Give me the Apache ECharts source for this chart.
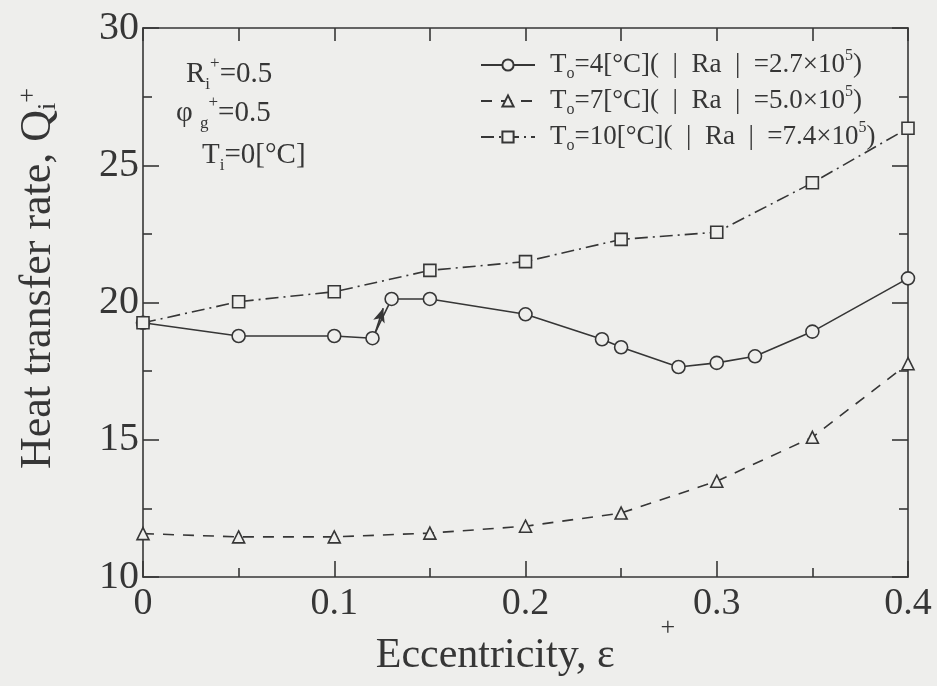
<!DOCTYPE html>
<html>
<head>
<meta charset="utf-8">
<script src="https://cdn.jsdelivr.net/npm/echarts@6/dist/echarts.min.js"></script>
<style>
  html, body { margin: 0; padding: 0; background: #eeeeec; }
  #chart { width: 937px; height: 686px; }
</style>
</head>
<body>
<div id="chart"></div>
<script>
// eccentricity values and heat transfer rate
var circleX = [0, 0.05, 0.1, 0.12, 0.13, 0.15, 0.2, 0.24, 0.25, 0.28, 0.3, 0.32, 0.35, 0.4];
var circleY = [19.26, 18.78, 18.78, 18.70, 20.13, 20.13, 19.57, 18.66, 18.37, 17.65, 17.80, 18.04, 18.94, 20.88];

var triX = [0, 0.05, 0.1, 0.15, 0.2, 0.25, 0.3, 0.35, 0.4];
var triY = [11.58, 11.46, 11.46, 11.60, 11.85, 12.33, 13.49, 15.09, 17.77];

var squareX = [0, 0.05, 0.1, 0.15, 0.2, 0.25, 0.3, 0.35, 0.4];
var squareY = [19.26, 20.03, 20.39, 21.17, 21.49, 22.30, 22.56, 24.36, 26.35];

// little arrow near the jump at 0.12 -> 0.13
var arrowFrom = [0.1217, 18.94];
var arrowTo = [0.1256, 19.79];

var seriesNames = [
  'T{sub|o}=4[°C](  |  Ra  |  =2.7×10{sup|5})',
  'T{sub|o}=7[°C](  |  Ra  |  =5.0×10{sup|5})',
  'T{sub|o}=10[°C](  |  Ra  |  =7.4×10{sup|5})'
];

var xTicks = [0, 0.1, 0.2, 0.3, 0.4];
var yTicks = [10, 15, 20, 25, 30];

var ink = '#363636';
var bg = '#eeeeec';
var serif = 'Liberation Serif';

function pairs(xs, ys) {
  return xs.map(function (x, i) { return [x, ys[i]]; });
}

// small sub/superscript styles: short line box pinned to the bottom/top of a taller line
function scripts(size, lh) {
  return {
    sub: { fontSize: size, fontFamily: serif, color: ink, verticalAlign: 'bottom', lineHeight: lh },
    sup: { fontSize: size, fontFamily: serif, color: ink, verticalAlign: 'top', lineHeight: lh }
  };
}

var chart = echarts.init(document.getElementById('chart'));

var axisCommon = {
  axisLine: { show: true, onZero: false, lineStyle: { color: ink, width: 1.6 } },
  splitLine: { show: false },
  axisTick: { show: true, inside: true, length: 16, lineStyle: { color: ink, width: 1.6 } },
  minorTick: { show: true, splitNumber: 2, length: 9, lineStyle: { color: ink, width: 1.6 } }
};

var option = {
  backgroundColor: bg,
  animation: false,
  grid: { left: 143, right: 29, top: 28, bottom: 109, containLabel: false, outerBoundsMode: 'none' },
  legend: {
    orient: 'vertical',
    left: 475,
    top: 43,
    itemWidth: 54,
    itemHeight: 14,
    itemGap: 2,
    data: seriesNames,
    textStyle: {
      fontFamily: serif,
      fontSize: 27,
      color: ink,
      lineHeight: 34,
      padding: [0, 0, 0, 10],
      rich: scripts(16, 10)
    },
    formatter: function (name) { return name; }
  },
  xAxis: [
    Object.assign({}, axisCommon, {
      type: 'value',
      min: 0,
      max: 0.4,
      interval: 0.1,
      position: 'bottom',
      name: 'Eccentricity, ε{sup|+}',
      nameLocation: 'middle',
      nameGap: 58,
      nameMoveOverlap: false,
      nameTextStyle: {
        fontFamily: serif, fontSize: 42, color: ink,
        rich: { sup: { fontSize: 26, fontFamily: serif, color: ink, verticalAlign: 'top', padding: [-20, 0, 0, 46] } }
      },
      axisLabel: {
        fontFamily: serif, fontSize: 38, color: ink, margin: 8,
        formatter: function (v) {
          var hit = xTicks.filter(function (t) { return Math.abs(t - v) < 1e-9; });
          return hit.length ? String(hit[0]) : '';
        }
      }
    }),
    Object.assign({}, axisCommon, {
      type: 'value',
      min: 0,
      max: 0.4,
      interval: 0.05,
      position: 'top',
      axisLabel: { show: false },
      axisTick: { show: true, inside: true, length: 13, lineStyle: { color: ink, width: 1.6 } },
      minorTick: { show: false }
    })
  ],
  yAxis: [
    Object.assign({}, axisCommon, {
      type: 'value',
      min: 10,
      max: 30,
      interval: 5,
      position: 'left',
      name: 'Heat transfer rate, Q{sub|i}{sup|+}',
      nameLocation: 'middle',
      nameRotate: 90,
      nameGap: 82,
      nameTextStyle: {
        fontFamily: serif, fontSize: 44, color: ink, lineHeight: 46,
        padding: [0, 0, 0, 48],
        rich: scripts(26, 14)
      },
      axisLabel: {
        fontFamily: serif, fontSize: 40, color: ink, margin: 4,
        formatter: function (v) { return yTicks.indexOf(v) >= 0 ? String(v) : ''; }
      }
    }),
    Object.assign({}, axisCommon, {
      type: 'value',
      min: 10,
      max: 30,
      interval: 5,
      position: 'right',
      axisLabel: { show: false }
    })
  ],
  graphic: [
    {
      type: 'text', left: 186, top: 55,
      style: { text: 'R{sub|i}{sup|+}=0.5', fontFamily: serif, fontSize: 29, fill: ink, lineHeight: 38, rich: scripts(17, 10) }
    },
    {
      type: 'text', left: 176, top: 94,
      style: { text: 'φ {sub|g}{sup|+}=0.5', fontFamily: serif, fontSize: 29, fill: ink, lineHeight: 38, rich: scripts(17, 10) }
    },
    {
      type: 'text', left: 202, top: 136,
      style: { text: 'T{sub|i}=0[°C]', fontFamily: serif, fontSize: 29, fill: ink, lineHeight: 38, rich: scripts(17, 10) }
    }
  ],
  series: [
    {
      name: seriesNames[0],
      type: 'line',
      data: pairs(circleX, circleY),
      symbol: 'circle',
      symbolSize: 13,
      showAllSymbol: true,
      lineStyle: { color: ink, width: 1.6, type: 'solid' },
      itemStyle: { color: bg, borderColor: ink, borderWidth: 1.6 },
      markLine: {
        silent: true,
        symbol: ['none', 'arrow'],
        symbolSize: [9, 14],
        label: { show: false },
        lineStyle: { color: ink, width: 1.8, type: 'solid' },
        data: [[{ coord: arrowFrom }, { coord: arrowTo }]]
      },
      z: 3
    },
    {
      name: seriesNames[1],
      type: 'line',
      data: pairs(triX, triY),
      symbol: 'triangle',
      symbolSize: 12,
      showAllSymbol: true,
      lineStyle: { color: ink, width: 1.6, type: [11, 9] },
      itemStyle: { color: bg, borderColor: ink, borderWidth: 1.6 },
      z: 3
    },
    {
      name: seriesNames[2],
      type: 'line',
      data: pairs(squareX, squareY),
      symbol: 'rect',
      symbolSize: 12,
      showAllSymbol: true,
      lineStyle: { color: ink, width: 1.6, type: [13, 5, 2, 5] },
      itemStyle: { color: bg, borderColor: ink, borderWidth: 1.6 },
      z: 3
    }
  ]
};

chart.setOption(option);
</script>
</body>
</html>
